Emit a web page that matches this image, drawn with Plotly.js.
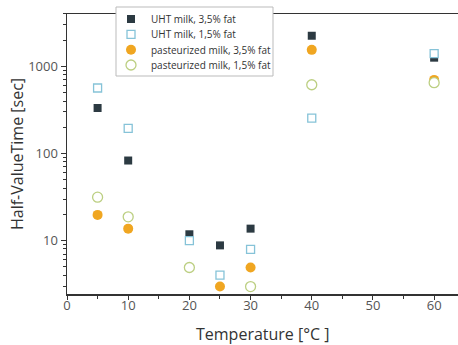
<!DOCTYPE html>
<html>
<head>
<meta charset="utf-8">
<script src="https://cdn.plot.ly/plotly-3.0.1.min.js"></script>
<style>html,body{margin:0;padding:0;background:#fff;}#chart{width:458px;height:345px;}</style>
</head>
<body>
<div id="chart"></div>
<script>
const seriesNames = ["UHT milk, 3,5% fat", "UHT milk, 1,5% fat", "pasteurized milk, 3,5% fat", "pasteurized milk, 1,5% fat"];
const uht35_x = [5, 10, 20, 25, 30, 40, 60];
const uht35_y = [333, 83, 11.8, 8.8, 13.7, 2250, 1260];
const uht15_x = [5, 10, 20, 25, 30, 40, 60];
const uht15_y = [565, 194, 10, 4, 7.9, 255, 1400];
const past35_x = [5, 10, 25, 30, 40, 60];
const past35_y = [19.7, 13.7, 2.96, 4.9, 1550, 700];
const past15_x = [5, 10, 20, 30, 40, 60];
const past15_y = [31.5, 18.7, 4.9, 2.96, 616, 650];
const yTickVals = [10, 100, 1000];
const yTickText = ["10", "100", "1000"];
const xTitle = 'Temperature [°C ]';
const yTitle = 'Half-ValueTime [sec]';

const traces = [
  {x: uht35_x, y: uht35_y, name: seriesNames[0], type: 'scatter', mode: 'markers', legend: 'legend',
   marker: {symbol: 'square', size: 8, color: '#2c3a42', line: {width: 0}}},
  {x: uht15_x, y: uht15_y, name: seriesNames[1], type: 'scatter', mode: 'markers', legend: 'legend2',
   marker: {symbol: 'square', size: 8, color: '#ffffff', line: {width: 1.3, color: '#86c3d8'}}},
  {x: past35_x, y: past35_y, name: seriesNames[2], type: 'scatter', mode: 'markers', legend: 'legend3',
   marker: {symbol: 'circle', size: 10, color: '#f0a621', line: {width: 0}}},
  {x: past15_x, y: past15_y, name: seriesNames[3], type: 'scatter', mode: 'markers', legend: 'legend4',
   marker: {symbol: 'circle', size: 10, color: '#ffffff', line: {width: 1.3, color: '#bccf82'}}}
];

function leg(py) {
  return {x: (111 - 67) / 391, y: (294 - py) / 280, xanchor: 'left', yanchor: 'middle',
    bgcolor: 'rgba(0,0,0,0)', borderwidth: 0, itemwidth: 30,
    font: {size: 10, color: '#333'}};
}

const layout = {
  width: 458, height: 345,
  margin: {l: 67, r: 0, t: 14, b: 51},
  paper_bgcolor: '#fff', plot_bgcolor: '#fff',
  font: {family: '"Open Sans", sans-serif', color: '#444'},
  showlegend: true,
  legend: leg(19), legend2: leg(34.3), legend3: leg(49.7), legend4: leg(65),
  shapes: [{type: 'rect', xref: 'paper', yref: 'paper',
    x0: (116 - 67) / 391, x1: (273 - 67) / 391, y0: (294 - 76) / 280, y1: (294 - 7) / 280,
    line: {color: '#bbbbbb', width: 1}, fillcolor: '#ffffff', layer: 'above'}],
  annotations: [{text: xTitle, xref: 'paper', yref: 'paper', x: 0.5, y: (294 - 334) / 280,
    xanchor: 'center', yanchor: 'middle', showarrow: false,
    font: {size: 16, color: '#333', family: '"Open Sans", sans-serif'}}],
  xaxis: {
    range: [0, 63.9], showgrid: false, zeroline: false,
    showline: true, linecolor: '#333', linewidth: 1.5, mirror: true,
    ticks: 'outside', ticklen: 4, tickcolor: '#333', tickwidth: 1,
    dtick: 10, tick0: 0, ticklabelstandoff: -5,
    tickfont: {size: 13, color: '#555'},
    minor: {ticks: 'outside', ticklen: 3, dtick: 5, tick0: 0, tickcolor: '#333', showgrid: false}
  },
  yaxis: {
    type: 'log', range: [0.386, 3.602], showgrid: false, zeroline: false,
    showline: true, linecolor: '#333', linewidth: 1.5, mirror: false,
    ticks: 'outside', ticklen: 5, tickcolor: '#333', tickwidth: 1,
    tickmode: 'array', tickvals: yTickVals, ticktext: yTickText,
    tickfont: {size: 13, color: '#555'},
    minor: {ticks: 'outside', ticklen: 3, dtick: 'D1', tickcolor: '#333', showgrid: false},
    title: {text: yTitle, font: {size: 16, color: '#333'}, standoff: 0}
  }
};

Plotly.newPlot('chart', traces, layout, {displayModeBar: false, staticPlot: true});
</script>
</body>
</html>
